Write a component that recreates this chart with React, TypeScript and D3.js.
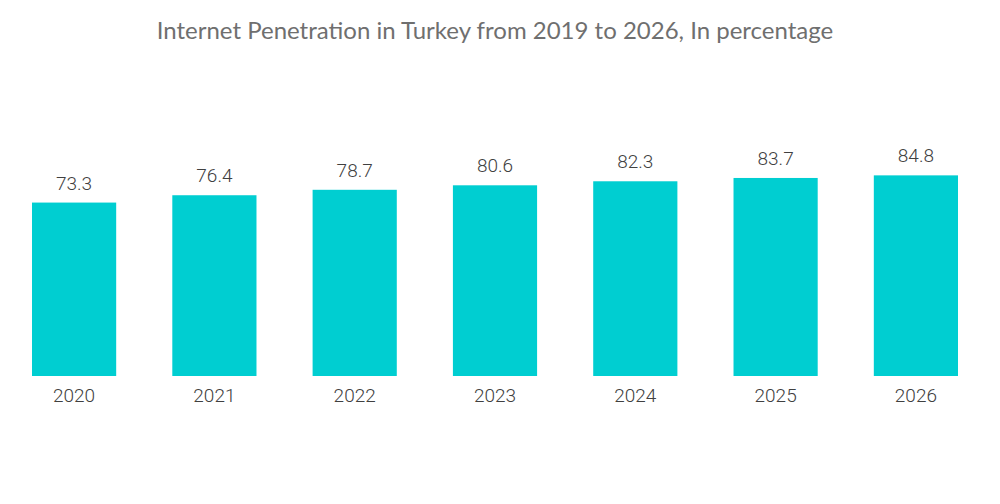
import * as d3 from "d3";

// ── Data ──────────────────────────────────────────────────────────────────────

const YEARS = ["2020", "2021", "2022", "2023", "2024", "2025", "2026"];
const PENETRATION = [73.3, 76.4, 78.7, 80.6, 82.3, 83.7, 84.8];

// ── Constants ─────────────────────────────────────────────────────────────────

const WIDTH = 1000;
const HEIGHT = 504;
const BASELINE = 376;
const BAR_COLOR = "#00ced1";
const LABEL_FONT = "Roboto, sans-serif";

export default function App() {
  const x = d3.scaleBand<string>().domain(YEARS).range([32, 958]).paddingInner(0.4).paddingOuter(0);
  const y = d3.scaleLinear().domain([0, 100]).range([BASELINE, BASELINE - 236.6]);

  const rows = YEARS.map((year, i) => ({ year, value: PENETRATION[i] }));

  return (
    <svg
      width={WIDTH}
      height={HEIGHT}
      style={{ position: "absolute", left: 0, top: 0, background: "#fff" }}
    >
      <text
        x={495}
        y={39}
        textAnchor="middle"
        fill="#6f6f6f"
        fontSize={24}
        fontFamily="Lato, sans-serif"
      >
        Internet Penetration in Turkey from 2019 to 2026, In percentage
      </text>

      {rows.map((d) => {
        const bx = x(d.year) ?? 0;
        const bw = x.bandwidth();
        const by = y(d.value);
        return (
          <g key={d.year}>
            <rect x={bx} y={by} width={bw} height={BASELINE - by} fill={BAR_COLOR} />
            <text
              x={bx + bw / 2}
              y={by - 13}
              textAnchor="middle"
              fill="#404040"
              fontSize={19}
              fontWeight={300}
              fontFamily={LABEL_FONT}
            >
              {d.value.toFixed(1)}
            </text>
            <text
              x={bx + bw / 2}
              y={402}
              textAnchor="middle"
              fill="#404040"
              fontSize={19}
              fontWeight={300}
              fontFamily={LABEL_FONT}
            >
              {d.year}
            </text>
          </g>
        );
      })}
    </svg>
  );
}
